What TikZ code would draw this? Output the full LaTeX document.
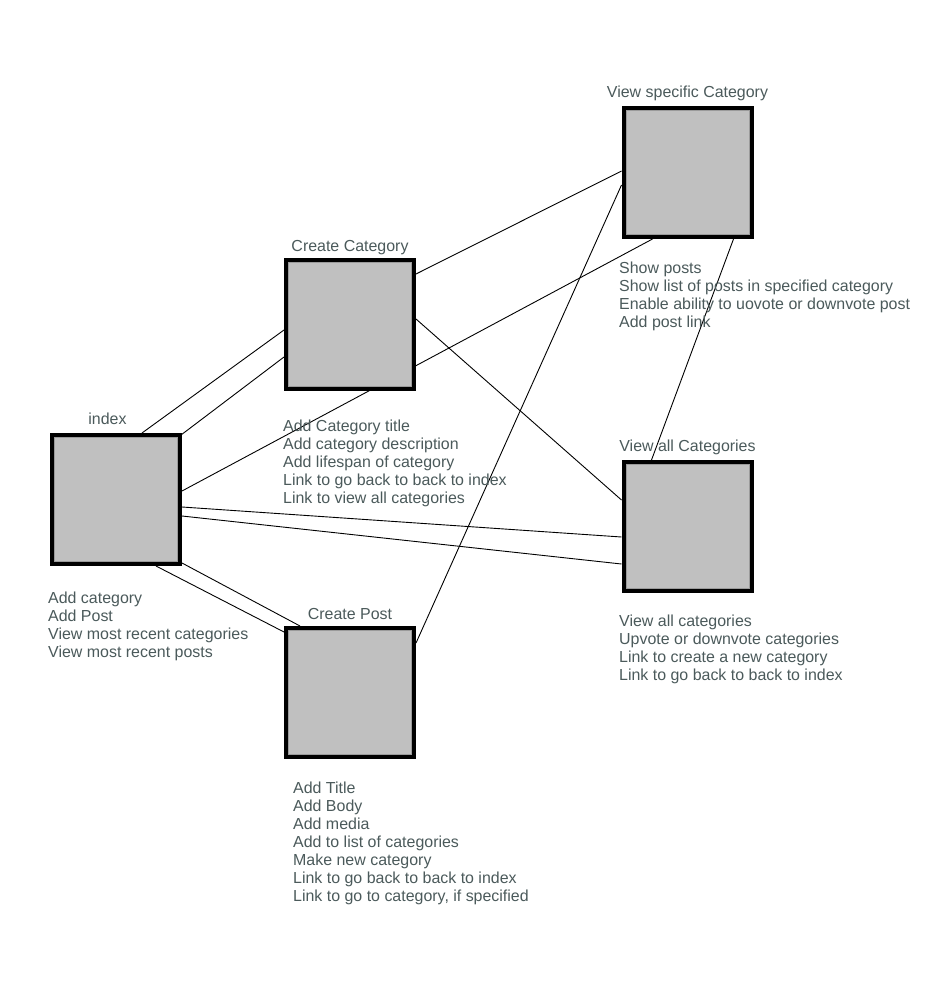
\documentclass[tikz,border=0pt]{standalone}
\usepackage{fontspec}
\setmainfont{Liberation Sans}
\usetikzlibrary{calc}
\pgfdeclarelayer{bg}
\pgfdeclarelayer{lines}
\pgfsetlayers{bg,lines,main}
\definecolor{txt}{HTML}{4B5A5B}
\definecolor{boxfill}{HTML}{C0C0C0}
\definecolor{innerline}{HTML}{9A9A9A}
\newcommand{\lblfont}{\fontsize{15.95}{18}\selectfont}
\newcommand{\notelist}[1]{\begin{tabular}[t]{@{}l@{}}#1\end{tabular}}
\tikzset{
  x=1pt, y=-1pt,
  page/.style={inner sep=0pt, outer sep=2pt, minimum width=128pt, minimum height=129pt,
    draw=black, line width=4pt, fill=boxfill,
    path picture={\draw[line width=1pt, innerline]
      ([xshift=2.5pt,yshift=-2.5pt]path picture bounding box.north west) rectangle
      ([xshift=-2.5pt,yshift=2.5pt]path picture bounding box.south east);}},
  title/.style={inner sep=0pt, anchor=base, text=txt, font=\lblfont},
  notes/.style={inner sep=0pt, anchor=base west, text=txt, font=\lblfont},
  link/.style={line width=0.9pt, black}
}
\begin{document}
\begin{tikzpicture}
\begin{pgfonlayer}{bg}
\fill[white] (0,0) rectangle (950,1000);
\end{pgfonlayer}
\useasboundingbox (0,0) rectangle (950,1000);

% boxes
\node[page] (idx) at (116,499.5) {};
\node[page] (cc)  at (350,324.5) {};
\node[page] (vs)  at (687.5,172.5) {};
\node[page] (va)  at (687.5,526.5) {};
\node[page] (cp)  at (350,692.5) {};

% titles
\node[title] (tidx) at (107.5,424) {index};
\node[title] (tcc)  at (350,251.5) {Create Category};
\node[title] (tvs)  at (687.5,97.5) {View specific Category};
\node[title] (tva)  at (687.5,451) {View all Categories};
\node[title] (tcp)  at (350,619) {Create Post};

% notes
\node[notes] (nidx) at (48,603) {\notelist{Add category\\Add Post\\View most recent categories\\View most recent posts}};
\node[notes] (ncc) at (283,431) {\notelist{Add Category title\\Add category description\\Add lifespan of category\\Link to go back to back to index\\Link to view all categories}};
\node[notes] (nvs) at (619,273) {\notelist{Show posts\\Show list of posts in specified category\\Enable ability to uovote or downvote post\\Add post link}};
\node[notes] (nva) at (619,626) {\notelist{View all categories\\Upvote or downvote categories\\Link to create a new category\\Link to go back to back to index}};
\node[notes] (ncp) at (293,793) {\notelist{Add Title\\Add Body\\Add media\\Add to list of categories\\Make new category\\Link to go back to back to index\\Link to go to category, if specified}};

% connectors
\begin{pgfonlayer}{lines}
\draw[link] ([shift={(92,0)}]idx.north west) -- ([shift={(0,72)}]cc.north west);
\draw[link] ([shift={(-1,2)}]idx.north east) -- ([shift={(0,99)}]cc.north west);
\draw[link] ([shift={(0,58)}]idx.north east) -- ([shift={(31,0)}]vs.south west);
\draw[link] ([shift={(0,74)}]idx.north east) -- ([shift={(0,77)}]va.north west);
\draw[link] ([shift={(0,83)}]idx.north east) -- ([shift={(0,104)}]va.north west);
\draw[link] ([shift={(106,0)}]idx.south west) -- ([shift={(0,6)}]cp.north west);
\draw[link] ([shift={(0,-3)}]idx.south east) -- ([shift={(16,0)}]cp.north west);
\draw[link] ([shift={(0,16)}]cc.north east) -- ([shift={(0,65)}]vs.north west);
\draw[link] ([shift={(0,61)}]cc.north east) -- ([shift={(0,40)}]va.north west);
\draw[link] ([shift={(0,17)}]cp.north east) -- ([shift={(0,79)}]vs.north west);
\draw[link] ([shift={(112,0)}]vs.south west) -- ([shift={(30,0)}]va.north west);
\end{pgfonlayer}
\end{tikzpicture}
\end{document}
